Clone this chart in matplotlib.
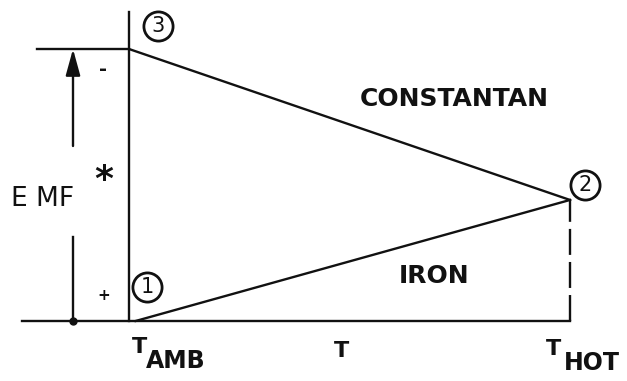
import matplotlib.pyplot as plt

# temperatures (normalised: ambient = 0, hot junction = 1)
T_AMB, T_HOT = 0.0, 1.0

# EMF along each wire (normalised to the EMF at point 3)
constantan_T = [0.0, 1.0]
constantan_emf = [1.0, 0.445]
iron_T = [0.015, 1.0]
iron_emf = [0.0, 0.445]

# numbered junction points
point_labels = ["1", "2", "3"]
point_T = [0.0, 1.0, 0.0]
point_emf = [0.0, 0.445, 1.0]

INK = "#111111"
W, H = 627, 381
# pixel layout of the drawing: T_AMB at x=129, T_HOT at x=570, EMF=0 at y=321, EMF=1 at y=49
X0, XS = 129, 441
Y0, YS = 321, 272


def to_data(xp, yp):
    return (xp - X0) / XS, (Y0 - yp) / YS


def main():
    fig = plt.figure(figsize=(W / 100, H / 100), dpi=100)
    ax = fig.add_axes([0, 0, 1, 1])
    ax.set_xlim(to_data(0, 0)[0], to_data(W, 0)[0])
    ax.set_ylim(to_data(0, H)[1], to_data(0, 0)[1])
    ax.axis("off")

    lw = 1.7
    font = dict(family="DejaVu Sans", color=INK)

    # axes of the sketch
    x_left = to_data(22, 0)[0]
    ax.plot([x_left, T_HOT], [0, 0], color=INK, lw=lw)
    ax.plot([T_AMB, T_AMB], [0, to_data(0, 12)[1]], color=INK, lw=lw)
    ax.plot([to_data(37, 0)[0], T_AMB], [point_emf[2]] * 2, color=INK, lw=lw)
    ax.plot([T_HOT, T_HOT], [0, point_emf[1]], color=INK, lw=lw,
            dashes=(11, 3))

    # the two wires
    ax.plot(constantan_T, constantan_emf, color=INK, lw=lw)
    ax.plot(iron_T, iron_emf, color=INK, lw=lw)

    # EMF arrow with a gap for the label
    xa = to_data(73, 0)[0]
    ax.plot([xa, xa], [0, to_data(0, 237)[1]], color=INK, lw=lw)
    ax.annotate("", xy=(xa, point_emf[2]), xytext=(xa, to_data(0, 146)[1]),
                arrowprops=dict(arrowstyle="-|>,head_length=0.8,head_width=0.22",
                                color=INK, lw=lw, shrinkA=0, shrinkB=0,
                                mutation_scale=20))
    ax.plot([xa], [0], "o", color=INK, ms=5)

    # numbered circles
    offsets = [(18, -34), (15, -15), (29, -23)]
    for lab, t, e, (dx, dy) in zip(point_labels, point_T, point_emf, offsets):
        xp = X0 + t * XS + dx
        yp = Y0 - e * YS + dy
        cx, cy = to_data(xp, yp)
        ax.plot([cx], [cy], "o", ms=21, mfc="white", mec=INK, mew=2.0)
        ax.text(cx, cy, lab, ha="center", va="center", fontsize=15, **font)

    def label(s, xp, yp, size=16, weight="bold", **kw):
        x, y = to_data(xp, yp)
        ax.text(x, y, s, fontsize=size, fontweight=weight, **font, **kw)

    label("CONSTANTAN", 454, 106, size=18, ha="center", va="baseline")
    label("IRON", 434, 283, size=18, ha="center", va="baseline")
    label("E MF", 11, 206, size=19, ha="left", va="baseline", weight="normal")
    label("*", 104, 190, size=26, ha="center", va="baseline")
    label("-", 103, 75, size=14, ha="center", va="baseline")
    label("+", 104, 300, size=11, ha="center", va="baseline")

    label("T", 139, 353, ha="center", va="baseline")
    label("AMB", 146, 368, size=17, ha="left", va="baseline")
    label("T", 342, 357, ha="center", va="baseline")
    label("T", 554, 355, ha="center", va="baseline")
    label("HOT", 564, 370, size=17, ha="left", va="baseline")

    fig.savefig("out.png", dpi=100, facecolor="white")


if __name__ == "__main__":
    main()
